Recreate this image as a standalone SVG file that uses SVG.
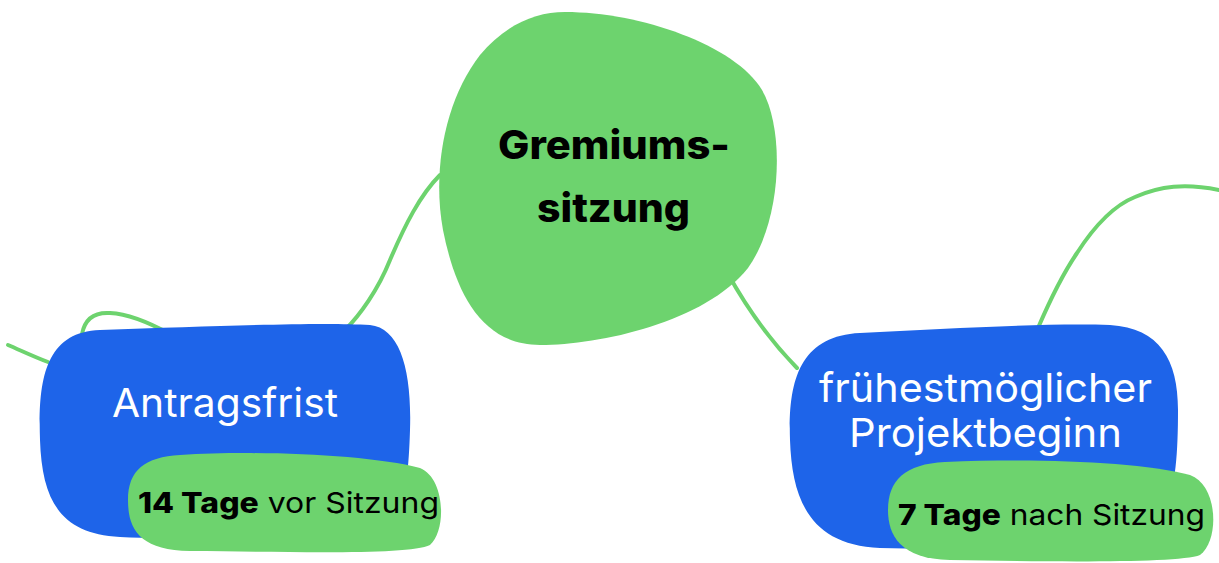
<svg xmlns="http://www.w3.org/2000/svg" width="1219" height="563" viewBox="0 0 1219 563">
<style>
.conn{fill:none;stroke:#6DD36E;stroke-width:4;stroke-linecap:round}
.green{fill:#6DD36E}
.blue{fill:#1E64E9}
.t{font-family:Inter,"Noto Sans","Liberation Sans",sans-serif}
.w{fill:#ffffff;font-size:40px}
.b{font-weight:800}
.k{fill:#000000}
</style>
<rect width="1219" height="563" fill="#ffffff"/>
<g id="connectors">
<path class="conn" d="M 440,175 C 420,195 405,225 390,260 C 378,290 360,315 345,330"/>
<path class="conn" d="M 727,272 C 745,305 765,335 797,368"/>
<path class="conn" d="M 1038,328 C 1050,300 1062,275 1077,253 C 1095,225 1115,205 1135,197 C 1160,186 1185,183 1219,190"/>
<path class="conn" d="M 8,345 C 20,350 32,356 48,362"/>
<path class="conn" d="M 82,334 C 85,318 95,312 110,313 C 130,314 150,323 170,334"/>
</g>
<g id="gremiumssitzung">
<path class="green" d="M 565,12 C 640,12 735,45 762,90 C 785,130 782,220 748,268 C 705,322 600,345 540,345 C 480,345 455,290 443,230 C 432,170 445,100 480,55 C 505,25 535,12 565,12 Z"/>
<text class="t b k" x="498" y="159" font-size="40" textLength="232" lengthAdjust="spacingAndGlyphs">Gremiums-</text>
<text class="t b k" x="537" y="222" font-size="40" textLength="153" lengthAdjust="spacingAndGlyphs">sitzung</text>
</g>
<g id="antragsfrist">
<path class="blue" d="M 100,330 C 220,326 320,322 370,325 C 400,328 412,370 410,430 C 408,500 400,530 360,535 C 280,540 180,540 120,537 C 60,534 42,500 40,440 C 38,380 45,332 100,330 Z"/>
<text class="t w" x="112" y="417" textLength="226" lengthAdjust="spacingAndGlyphs">Antragsfrist</text>
</g>
<g id="vor-sitzung">
<path class="green" d="M 180,455 C 260,450 370,455 420,468 C 445,478 447,530 430,545 C 410,555 300,552 190,551 C 140,550 128,530 128,500 C 128,470 145,457 180,455 Z"/>
<text class="t k" x="138" y="513" font-size="29" textLength="301" lengthAdjust="spacingAndGlyphs"><tspan class="b">14 Tage</tspan> vor Sitzung</text>
</g>
<g id="projektbeginn">
<path class="blue" d="M 860,333 C 950,328 1050,323 1110,325 C 1160,328 1178,360 1178,410 C 1178,480 1172,530 1130,540 C 1050,548 950,550 880,548 C 810,545 792,500 790,440 C 788,380 800,336 860,333 Z"/>
<text class="t w" x="819" y="402" textLength="333" lengthAdjust="spacingAndGlyphs">frühestmöglicher</text>
<text class="t w" x="849" y="447" textLength="273" lengthAdjust="spacingAndGlyphs">Projektbeginn</text>
</g>
<g id="nach-sitzung">
<path class="green" d="M 945,462 C 1040,458 1140,462 1190,475 C 1218,485 1220,540 1200,555 C 1180,563 1060,562 950,560 C 900,559 888,535 888,510 C 888,480 905,464 945,462 Z"/>
<text class="t k" x="898" y="525" font-size="29" textLength="307" lengthAdjust="spacingAndGlyphs"><tspan class="b">7 Tage</tspan> nach Sitzung</text>
</g>
</svg>
